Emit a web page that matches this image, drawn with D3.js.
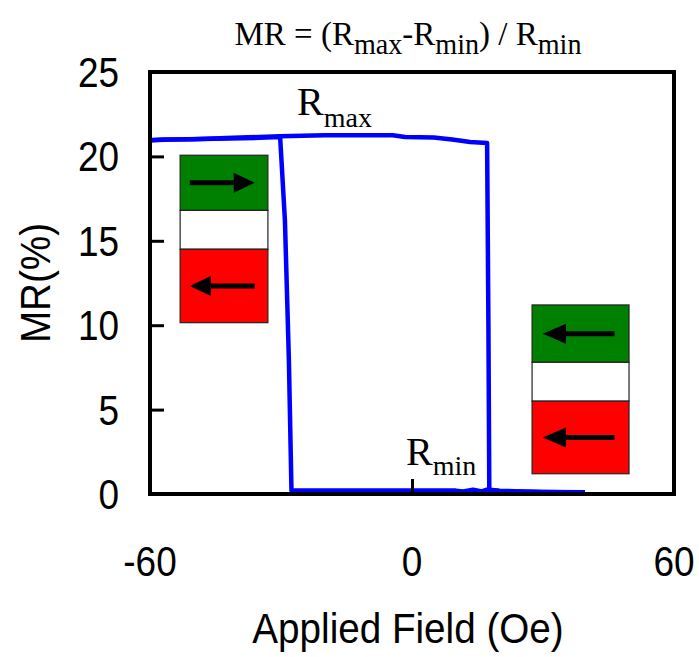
<!DOCTYPE html>
<html>
<head>
<meta charset="utf-8">
<script src="https://cdn.jsdelivr.net/npm/d3@7"></script>
<style>
  body { margin: 0; background: #fff; }
  svg { display: block; }
</style>
</head>
<body>
<div id="chart"></div>
<script>
// field sweep up (Oe) and MR (%)
const sweepUpField = [-60, -57, -50, -41, -35, -30.2, -20, -10, -4.4, -1.6, 5, 9.2, 13.3, 17.2, 17.5, 17.7, 20, 25, 30, 35, 39.6];
const sweepUpMR    = [20.95, 21.0, 21.02, 21.1, 21.15, 21.2, 21.25, 21.25, 21.25, 21.15, 21.12, 21.0, 20.85, 20.8, 10, 0.25, 0.2, 0.15, 0.12, 0.1, 0.1];

// field sweep down
const sweepDownField = [39.6, 30, 20, 17, 16, 14, 11.7, 10, 0, -10, -20, -27.6, -28.2, -29.1, -30.2, -35, -45, -55, -60];
const sweepDownMR    = [0.1, 0.12, 0.18, 0.25, 0.15, 0.25, 0.15, 0.2, 0.2, 0.2, 0.2, 0.2, 8, 16.2, 21.15, 21.1, 21.05, 21.0, 20.95];

const xTicks = [-60, 0, 60];
const yTicks = [0, 5, 10, 15, 20, 25];

const width = 699, height = 657;
const margin = {top: 72, right: 25, bottom: 163, left: 150};
const plotW = width - margin.left - margin.right;
const plotH = height - margin.top - margin.bottom;

const svg = d3.select("#chart").append("svg")
    .attr("width", width)
    .attr("height", height);

const x = d3.scaleLinear().domain([-60, 60]).range([margin.left, margin.left + plotW]);
const y = d3.scaleLinear().domain([0, 25]).range([margin.top + plotH, margin.top]);

const sans = "'Liberation Sans', Arial, sans-serif";
const serif = "'Liberation Serif', 'Times New Roman', serif";

// squeeze sans text a little, the original looks condensed
function squeeze(sel, k) {
    sel.each(function () {
        const len = this.getComputedTextLength();
        d3.select(this).attr("textLength", len * k).attr("lengthAdjust", "spacingAndGlyphs");
    });
}

// magnetization sketches (data units)
function drawStack(x0, x1, yTop, ySplit1, ySplit2, yBot, topDir, botDir) {
    const g = svg.append("g");
    const bx = x(x0), bw = x(x1) - x(x0);
    g.append("rect").attr("x", bx).attr("y", y(yTop)).attr("width", bw).attr("height", y(ySplit1) - y(yTop))
        .attr("fill", "#008000").attr("stroke", "#222").attr("stroke-width", 1.2);
    g.append("rect").attr("x", bx).attr("y", y(ySplit1)).attr("width", bw).attr("height", y(ySplit2) - y(ySplit1))
        .attr("fill", "#fff").attr("stroke", "#222").attr("stroke-width", 1.2);
    g.append("rect").attr("x", bx).attr("y", y(ySplit2)).attr("width", bw).attr("height", y(yBot) - y(ySplit2))
        .attr("fill", "#ff0000").attr("stroke", "#222").attr("stroke-width", 1.2);
    arrow(g, bx, bw, (y(yTop) + y(ySplit1)) / 2, topDir);
    arrow(g, bx, bw, (y(ySplit2) + y(yBot)) / 2, botDir);
}

function arrow(g, bx, bw, cy, dir) {
    const a = bx + bw * 0.11, b = bx + bw * 0.85;
    const tip = dir > 0 ? b : a;
    const tail = dir > 0 ? a : b;
    const base = tip - dir * bw * 0.24;
    g.append("line").attr("x1", tail).attr("x2", base).attr("y1", cy).attr("y2", cy)
        .attr("stroke", "#000").attr("stroke-width", 5);
    g.append("path").attr("d", `M${tip},${cy} L${base},${cy - 10} L${base},${cy + 10} Z`).attr("fill", "#000");
}

drawStack(-53.1, -33, 20.07, 16.8, 14.5, 10.15, 1, -1);
drawStack(27.5, 49.7, 11.2, 7.8, 5.5, 1.2, -1, -1);

// curve
const line = d3.line().x(d => x(d[0])).y(d => y(d[1]));
const upPts = sweepUpField.map((f, i) => [f, sweepUpMR[i]]);
const downPts = sweepDownField.map((f, i) => [f, sweepDownMR[i]]);
[upPts, downPts].forEach(pts => {
    svg.append("path").datum(pts).attr("d", line)
        .attr("fill", "none").attr("stroke", "#0000ff").attr("stroke-width", 4.5)
        .attr("stroke-linejoin", "round");
});

// frame
svg.append("rect")
    .attr("x", margin.left).attr("y", margin.top)
    .attr("width", plotW).attr("height", plotH)
    .attr("fill", "none").attr("stroke", "#000").attr("stroke-width", 4);

// axes (ticks inside)
const yAxis = svg.append("g").attr("transform", `translate(${margin.left},0)`)
    .call(d3.axisRight(y).tickValues(yTicks).tickSize(14).tickFormat(""));
yAxis.select(".domain").remove();
yAxis.selectAll(".tick line").attr("stroke", "#000").attr("stroke-width", 3);

const xAxis = svg.append("g").attr("transform", `translate(0,${margin.top + plotH})`)
    .call(d3.axisTop(x).tickValues(xTicks).tickSize(15).tickFormat(""));
xAxis.select(".domain").remove();
xAxis.selectAll(".tick line").attr("stroke", "#000").attr("stroke-width", 3);

// tick labels
const yl = svg.append("g").selectAll("text").data(yTicks).join("text")
    .attr("x", 119).attr("y", d => y(d) + 15)
    .attr("text-anchor", "end")
    .attr("font-family", sans).attr("font-size", 42)
    .text(d => d);
squeeze(yl, 0.88);

const xl = svg.append("g").selectAll("text").data(xTicks).join("text")
    .attr("x", d => x(d)).attr("y", 576)
    .attr("text-anchor", "middle")
    .attr("font-family", sans).attr("font-size", 42)
    .text(d => d);
squeeze(xl, 0.88);

// axis titles
const xt = svg.append("text")
    .attr("x", 408).attr("y", 643)
    .attr("text-anchor", "middle")
    .attr("font-family", sans).attr("font-size", 42)
    .text("Applied Field (Oe)");
squeeze(xt, 0.92);

const yt = svg.append("text")
    .attr("transform", `translate(50,283) rotate(-90)`)
    .attr("text-anchor", "middle")
    .attr("font-family", sans).attr("font-size", 42)
    .text("MR(%)");
squeeze(yt, 0.92);

// title
const title = svg.append("text")
    .attr("x", 408).attr("y", 45)
    .attr("text-anchor", "middle")
    .attr("font-family", serif).attr("font-size", 34);
title.append("tspan").text("MR = (R");
title.append("tspan").attr("font-size", 29).attr("dy", 9).text("max");
title.append("tspan").attr("dy", -9).text("-R");
title.append("tspan").attr("font-size", 29).attr("dy", 9).text("min");
title.append("tspan").attr("dy", -9).text(") / R");
title.append("tspan").attr("font-size", 29).attr("dy", 9).text("min");
squeeze(title, 0.97);

// R_max / R_min labels
const rmax = svg.append("text")
    .attr("x", 297).attr("y", 115)
    .attr("font-family", serif).attr("font-size", 40);
rmax.append("tspan").text("R");
rmax.append("tspan").attr("font-size", 28).attr("dy", 12).text("max");

const rmin = svg.append("text")
    .attr("x", 406).attr("y", 465)
    .attr("font-family", serif).attr("font-size", 40);
rmin.append("tspan").text("R");
rmin.append("tspan").attr("font-size", 28).attr("dy", 10).text("min");
</script>
</body>
</html>
